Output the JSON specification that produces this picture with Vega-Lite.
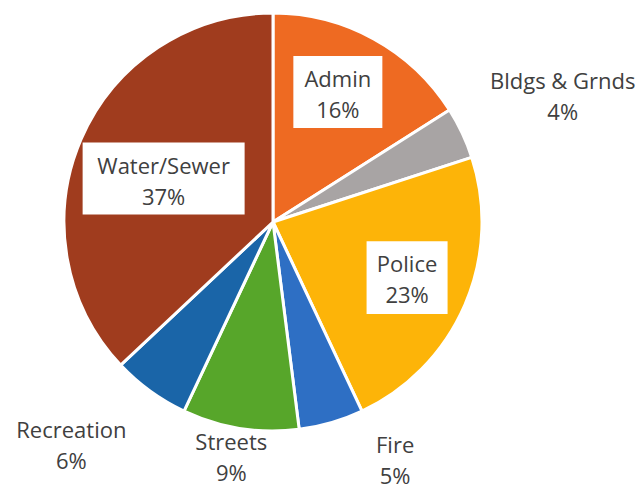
{
  "$schema": "https://vega.github.io/schema/vega-lite/v6.json",
  "width": 546,
  "height": 444,
  "autosize": {"type": "none"},
  "padding": {"left": 0, "top": 0, "right": 98, "bottom": 45},
  "background": "white",
  "config": {"view": {"stroke": null}, "text": {"font": "Open Sans", "fontSize": 22, "letterSpacing": 0.8, "color": "#404040"}},
  "data": {
    "values": [
      {"category": "Admin", "value": 16},
      {"category": "Bldgs & Grnds", "value": 4},
      {"category": "Police", "value": 23},
      {"category": "Fire", "value": 5},
      {"category": "Streets", "value": 9},
      {"category": "Recreation", "value": 6},
      {"category": "Water/Sewer", "value": 37}
    ]
  },
  "transform": [
    {"window": [{"op": "row_number", "as": "idx"}, {"op": "sum", "field": "value", "as": "cum"}], "frame": [null, 0]},
    {"joinaggregate": [{"op": "sum", "field": "value", "as": "total"}]},
    {"calculate": "2*PI*(datum.cum - datum.value/2)/datum.total", "as": "mid"},
    {"calculate": "[datum.category, datum.value + '%']", "as": "label"}
  ],
  "layer": [
    {
      "mark": {"type": "arc", "outerRadius": 209, "stroke": "white", "strokeWidth": 3},
      "encoding": {
        "theta": {"field": "value", "type": "quantitative", "stack": true},
        "order": {"field": "idx", "type": "quantitative"},
        "color": {
          "field": "category", "type": "nominal", "legend": null,
          "scale": {
            "domain": ["Admin", "Bldgs & Grnds", "Police", "Fire", "Streets", "Recreation", "Water/Sewer"],
            "range": ["#EE6A22", "#A8A4A4", "#FDB408", "#2E6FC4", "#57A62A", "#1A65A8", "#A03C1E"]
          }
        }
      }
    },
    {
      "transform": [
        {"filter": "datum.category === 'Admin'"},
        {"calculate": "145*sin(datum.mid) - 5", "as": "px"},
        {"calculate": "145*cos(datum.mid) + 3", "as": "py"}
      ],
      "layer": [
        {"mark": {"type": "point", "filled": true, "opacity": 1, "color": "white", "shape": "M-1,-0.81H1V0.81H-1Z", "size": 7921},
         "encoding": {
           "x": {"field": "px", "type": "quantitative", "scale": {"domain": [-273, 273]}, "axis": null},
           "y": {"field": "py", "type": "quantitative", "scale": {"domain": [-222, 222]}, "axis": null}
         }},
        {"mark": {"type": "text", "lineHeight": 31, "baseline": "middle", "align": "center", "dy": -12},
         "encoding": {
           "x": {"field": "px", "type": "quantitative", "scale": {"domain": [-273, 273]}, "axis": null},
           "y": {"field": "py", "type": "quantitative", "scale": {"domain": [-222, 222]}, "axis": null},
           "text": {"field": "label"}
         }}
      ]
    },
    {
      "transform": [
        {"filter": "datum.category === 'Police'"},
        {"calculate": "145*sin(datum.mid) + 1", "as": "px"},
        {"calculate": "145*cos(datum.mid) + 2", "as": "py"}
      ],
      "layer": [
        {"mark": {"type": "point", "filled": true, "opacity": 1, "color": "white", "shape": "M-1,-0.9H1V0.9H-1Z", "size": 6561},
         "encoding": {
           "x": {"field": "px", "type": "quantitative", "scale": {"domain": [-273, 273]}, "axis": null},
           "y": {"field": "py", "type": "quantitative", "scale": {"domain": [-222, 222]}, "axis": null}
         }},
        {"mark": {"type": "text", "lineHeight": 31, "baseline": "middle", "align": "center", "dy": -13},
         "encoding": {
           "x": {"field": "px", "type": "quantitative", "scale": {"domain": [-273, 273]}, "axis": null},
           "y": {"field": "py", "type": "quantitative", "scale": {"domain": [-222, 222]}, "axis": null},
           "text": {"field": "label"}
         }}
      ]
    },
    {
      "transform": [
        {"filter": "datum.category === 'Water/Sewer'"},
        {"calculate": "117*sin(datum.mid) - 2", "as": "px"},
        {"calculate": "117*cos(datum.mid) - 3", "as": "py"}
      ],
      "layer": [
        {"mark": {"type": "point", "filled": true, "opacity": 1, "color": "white", "shape": "M-1,-0.444H1V0.444H-1Z", "size": 26244},
         "encoding": {
           "x": {"field": "px", "type": "quantitative", "scale": {"domain": [-273, 273]}, "axis": null},
           "y": {"field": "py", "type": "quantitative", "scale": {"domain": [-222, 222]}, "axis": null}
         }},
        {"mark": {"type": "text", "lineHeight": 31, "baseline": "middle", "align": "center", "dy": -12},
         "encoding": {
           "x": {"field": "px", "type": "quantitative", "scale": {"domain": [-273, 273]}, "axis": null},
           "y": {"field": "py", "type": "quantitative", "scale": {"domain": [-222, 222]}, "axis": null},
           "text": {"field": "label"}
         }}
      ]
    },
    {
      "transform": [
        {"filter": "datum.category === 'Bldgs & Grnds' || datum.category === 'Fire' || datum.category === 'Streets' || datum.category === 'Recreation'"},
        {"calculate": "datum.category === 'Bldgs & Grnds' ? 318 : datum.category === 'Fire' ? 255 : datum.category === 'Streets' ? 241 : 275", "as": "r"},
        {"calculate": "datum.r*sin(datum.mid) + (datum.category === 'Bldgs & Grnds' ? 2 : datum.category === 'Fire' ? 51 : datum.category === 'Streets' ? -4 : -40)", "as": "px"},
        {"calculate": "datum.r*cos(datum.mid) + (datum.category === 'Bldgs & Grnds' ? -8 : datum.category === 'Fire' ? 8 : datum.category === 'Streets' ? 4 : 0)", "as": "py"}
      ],
      "mark": {"type": "text", "lineHeight": 31, "baseline": "middle", "align": "center", "dy": -13},
      "encoding": {
        "x": {"field": "px", "type": "quantitative", "scale": {"domain": [-273, 273]}, "axis": null},
        "y": {"field": "py", "type": "quantitative", "scale": {"domain": [-222, 222]}, "axis": null},
        "text": {"field": "label"}
      }
    }
  ]
}
